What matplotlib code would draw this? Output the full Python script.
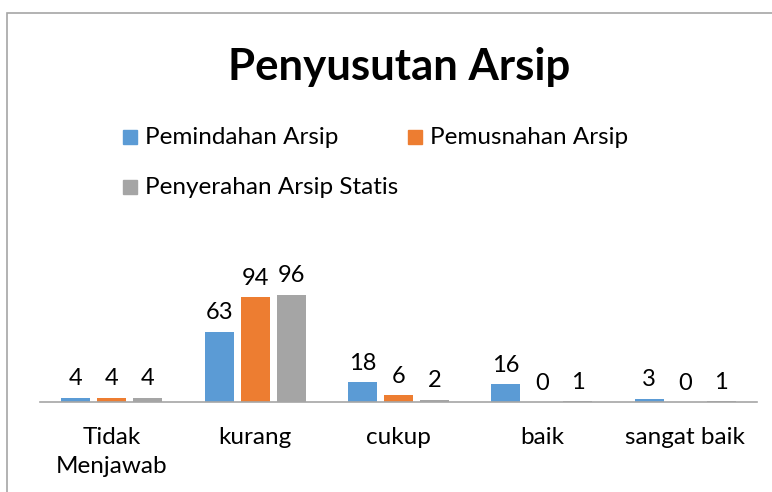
import matplotlib.pyplot as plt
from matplotlib.patches import Rectangle
import numpy as np

categories = ['Tidak\nMenjawab', 'kurang', 'cukup', 'baik', 'sangat baik']
series_names = ['Pemindahan Arsip', 'Pemusnahan Arsip', 'Penyerahan Arsip Statis']
pemindahan = [4, 63, 18, 16, 3]
pemusnahan = [4, 94, 6, 0, 0]
penyerahan = [4, 96, 2, 1, 1]
colors = ['#5B9BD5', '#ED7D31', '#A5A5A5']

W, H = 772, 492
plt.rcParams['font.family'] = ['Lato', 'DejaVu Sans']

fig = plt.figure(figsize=(W / 100, H / 100), dpi=100)
# axes placed in pixel terms: x 40..757, baseline at y=402, top at y=230
ax = fig.add_axes([40 / W, 90 / H, 717 / W, 172 / H])

x = np.arange(len(categories))
width = 0.202
offset = 0.251
for i, (vals, c) in enumerate(zip([pemindahan, pemusnahan, penyerahan], colors)):
    bars = ax.bar(x + (i - 1) * offset, vals, width, color=c)
    for b, v in zip(bars, vals):
        ax.annotate(str(v), (b.get_x() + b.get_width() / 2, v),
                    xytext=(0, 6), textcoords='offset points',
                    ha='center', va='bottom', fontsize=17, color='#000000')

ax.set_xlim(-0.5, len(categories) - 0.5)
ax.set_ylim(0, 154)
ax.set_xticks(x)
ax.set_xticklabels(categories, fontsize=17.5, linespacing=1.45, color='#000000')
ax.tick_params(axis='x', length=0, pad=18)
ax.set_yticks([])
for s in ['top', 'right', 'left']:
    ax.spines[s].set_visible(False)
ax.spines['bottom'].set_color('#A6A6A6')
ax.spines['bottom'].set_linewidth(1.2)
ax.patch.set_alpha(0)

# title
fig.text(399 / W, 1 - 80 / H, 'Penyusutan Arsip', ha='center', va='baseline',
         fontsize=31.5, fontweight='bold', color='#000000')

# legend drawn by hand (two rows like the original)
legend_pos = [(123, 137), (408, 137), (123, 187)]
for (px, py), name, c in zip(legend_pos, series_names, colors):
    fig.patches.append(Rectangle((px / W, 1 - (py + 7) / H), 14 / W, 14 / H,
                                 transform=fig.transFigure, color=c))
    fig.text((px + 22) / W, 1 - (py + 1) / H, name, ha='left', va='center',
             fontsize=17.5, color='#000000')

# chart border
fig.patches.append(Rectangle((7 / W, -0.1), 1.2, 1 - 13 / H + 0.1,
                             transform=fig.transFigure, fill=False,
                             edgecolor='#A6A6A6', linewidth=1.2))

fig.savefig('out.png', dpi=100)
